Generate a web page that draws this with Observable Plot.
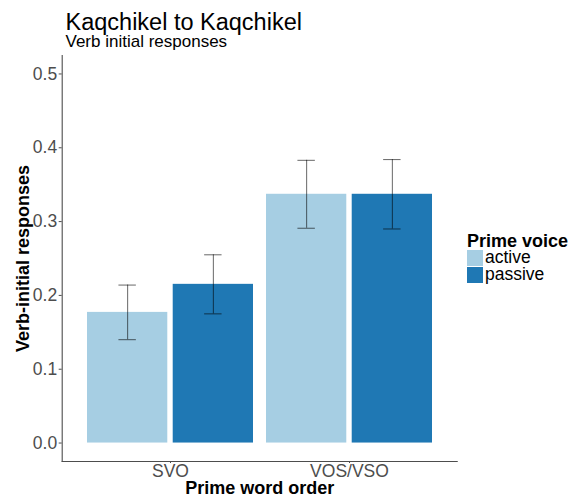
<!DOCTYPE html>
<html>
<head>
<meta charset="utf-8">
<script src="https://cdn.jsdelivr.net/npm/d3@7"></script>
<script src="https://cdn.jsdelivr.net/npm/@observablehq/plot@0.6"></script>
<style>
  html, body { margin: 0; padding: 0; background: #fff; }
  #wrap { position: relative; width: 576px; height: 497px; font-family: "Liberation Sans", Arial, sans-serif; }
  #head { position: relative; height: 55px; }
  #title { position: absolute; left: 65.5px; top: 11.85px; font-size: 23.5px; line-height: 20px; color: #000; white-space: nowrap; }
  #subtitle { position: absolute; left: 65.5px; top: 33.6px; font-size: 17px; line-height: 15px; color: #000; white-space: nowrap; }
  #legend { position: absolute; left: 467px; top: 232.5px; color: #000; }
  #legend .lt { font-weight: bold; font-size: 18px; line-height: 16px; margin-bottom: 0.8px; }
  #legend .row { display: flex; align-items: center; height: 17px; }
  #legend .sw { width: 16px; height: 16px; margin-right: 2px; }
  #legend .lab { font-size: 17.5px; line-height: 15px; }
  svg g[aria-label="y-axis label"] text, svg g[aria-label="x-axis label"] text { font-weight: bold; fill: #000; }
  svg g[aria-label="y-axis label"] { font-size: 18px; }
  svg g[aria-label="x-axis label"] { font-size: 18px; }
</style>
</head>
<body>
<div id="wrap">
  <div id="head">
    <div id="title"></div>
    <div id="subtitle"></div>
  </div>
  <div id="chart"></div>
  <div id="legend"></div>
</div>
<script>
const titleText = "Kaqchikel to Kaqchikel";
const subtitleText = "Verb initial responses";
const xLabel = "Prime word order";
const yLabel = "Verb-initial responses";
const legendTitle = "Prime voice";

const wordOrder = ["SVO", "SVO", "VOS/VSO", "VOS/VSO"];
const voice = ["active", "passive", "active", "passive"];
const meanValue = [0.177, 0.215, 0.337, 0.337];
const lowerValue = [0.140, 0.175, 0.291, 0.290];
const upperValue = [0.214, 0.255, 0.383, 0.384];

const orderDomain = ["SVO", "VOS/VSO"];
const voiceDomain = ["active", "passive"];
const voiceColors = ["#a6cee3", "#1f78b4"];
const yTicks = [0, 0.1, 0.2, 0.3, 0.4, 0.5];

const data = wordOrder.map((o, i) => ({
  order: o, voice: voice[i], mean: meanValue[i], lo: lowerValue[i], hi: upperValue[i]
}));

document.getElementById("title").textContent = titleText;
document.getElementById("subtitle").textContent = subtitleText;

// layout / style constants
const W = 576, H = 442;
const mL = 61.7, mR = 119.3, mT = 0, mB = 36;
const padIn = 0.074, padOut = 0.137;       // dodge group spacing (band scale)
const step = (W - mL - mR) / (orderDomain.length - padIn + 2 * padOut);
const band = step * (1 - padIn);            // width of one dodge group, px
const gapFrac = 0.031;                      // white gap between dodged bars, as band fraction
const barW = band * (1 - gapFrac) / 2;      // each bar's width
const inset = band - barW;                  // inset that leaves one half of the group
const shift = band * (1 + gapFrac) / 4;     // offset of a bar's centre from the group centre
const capW = 17.7;
const capInNear = barW / 2 - capW / 2;
const capInFar = band - barW / 2 - capW / 2;
const axisColor = "#4d4d4d";
const errStyle = { stroke: "#000", strokeOpacity: 0.6, strokeWidth: 1 };

const isActive = (d) => d.voice === voiceDomain[0];
const isPassive = (d) => d.voice === voiceDomain[1];

const chart = Plot.plot({
  width: W,
  height: H,
  marginTop: mT,
  marginBottom: mB,
  marginLeft: mL,
  marginRight: mR,
  style: { fontFamily: "Liberation Sans, Arial, sans-serif", background: "transparent" },
  x: { domain: orderDomain, paddingInner: padIn, paddingOuter: padOut, label: null },
  y: { domain: [-0.025, 0.525], label: null },
  color: { domain: voiceDomain, range: voiceColors },
  marks: [
    Plot.frame({ anchor: "left", stroke: axisColor, strokeWidth: 1.1 }),
    Plot.frame({ anchor: "bottom", stroke: axisColor, strokeWidth: 1.1 }),
    Plot.barY(data, { filter: isActive, x: "order", y1: 0, y2: "mean", fill: "voice", insetRight: inset }),
    Plot.barY(data, { filter: isPassive, x: "order", y1: 0, y2: "mean", fill: "voice", insetLeft: inset }),
    Plot.ruleX(data, { filter: isActive, x: "order", y1: "lo", y2: "hi", dx: -shift, ...errStyle }),
    Plot.ruleX(data, { filter: isPassive, x: "order", y1: "lo", y2: "hi", dx: shift, ...errStyle }),
    Plot.tickY(data, { filter: isActive, x: "order", y: "lo", insetLeft: capInNear, insetRight: capInFar, ...errStyle }),
    Plot.tickY(data, { filter: isActive, x: "order", y: "hi", insetLeft: capInNear, insetRight: capInFar, ...errStyle }),
    Plot.tickY(data, { filter: isPassive, x: "order", y: "lo", insetLeft: capInFar, insetRight: capInNear, ...errStyle }),
    Plot.tickY(data, { filter: isPassive, x: "order", y: "hi", insetLeft: capInFar, insetRight: capInNear, ...errStyle }),
    Plot.axisY({ ticks: yTicks, tickFormat: d3.format(".1f"), tickSize: 3, tickPadding: 2, fontSize: 17.5, color: axisColor, label: yLabel, labelAnchor: "center", labelArrow: "none", labelOffset: 46 }),
    Plot.axisX({ tickSize: 2, tickPadding: 1, fontSize: 17.5, color: axisColor, label: xLabel, labelAnchor: "center", labelArrow: "none", labelOffset: 32 })
  ]
});
document.getElementById("chart").appendChild(chart);

const legend = document.getElementById("legend");
const lt = document.createElement("div");
lt.className = "lt";
lt.textContent = legendTitle;
legend.appendChild(lt);
voiceDomain.forEach((v, i) => {
  const row = document.createElement("div");
  row.className = "row";
  const sw = document.createElement("div");
  sw.className = "sw";
  sw.style.background = voiceColors[i];
  const lab = document.createElement("div");
  lab.className = "lab";
  lab.textContent = v;
  row.appendChild(sw);
  row.appendChild(lab);
  legend.appendChild(row);
});
</script>
</body>
</html>
